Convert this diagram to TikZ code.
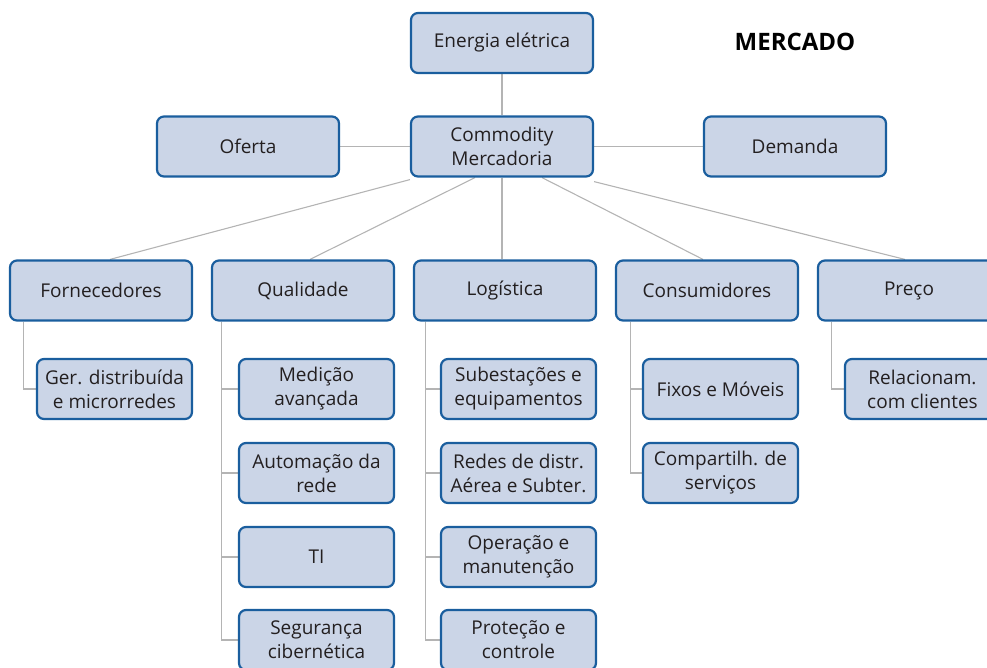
\documentclass[tikz,border=0pt]{standalone}
\usepackage{fontspec}
\setmainfont{Open Sans}
\usetikzlibrary{backgrounds}
\definecolor{boxfill}{HTML}{CBD5E7}
\definecolor{boxline}{HTML}{1A5E9E}
\definecolor{linkgray}{HTML}{B4B4B4}
\definecolor{ink}{HTML}{231F20}
\tikzset{
  topic/.style={rectangle, rounded corners=7pt, draw=boxline, line width=2.2pt,
    fill=boxfill, minimum width=182pt, minimum height=60pt, align=center,
    text=ink, font=\fontsize{19}{24}\selectfont, inner sep=0pt},
  subtopic/.style={topic, minimum width=155pt},
  link/.style={draw=linkgray, line width=1.1pt},
}
\begin{document}
\begin{tikzpicture}[x=1pt, y=-1pt]
\clip (0,0) rectangle (987,667);
\useasboundingbox (0,0) rectangle (987,667);

% top level
\node[topic] (ener) at (502,43) {Energia elétrica};
\node[topic] (com) at (502,146.5) {Commodity\\Mercadoria};
\node[topic] (ofe) at (248,146.5) {Oferta};
\node[topic] (dem) at (795,146.5) {Demanda};
\node[font=\fontsize{24}{28}\selectfont\bfseries, text=black] (merc) at (795,42) {MERCADO};

% second level
\node[topic] (forn) at (101,290.5) {Fornecedores};
\node[topic] (qual) at (303,290.5) {Qualidade};
\node[topic] (log) at (505,290.5) {Logística};
\node[topic] (cons) at (707,290.5) {Consumidores};
\node[topic] (prec) at (909,290.5) {Preço};

% third level
\node[subtopic] (ger) at (114.5,389) {Ger. distribuída\\e microrredes};

\node[subtopic] (med) at (316.5,389) {Medição\\avançada};
\node[subtopic] (aut) at (316.5,473) {Automação da\\rede};
\node[subtopic] (ti) at (316.5,557) {TI};
\node[subtopic] (seg) at (316.5,640) {Segurança\\cibernética};

\node[subtopic] (sub) at (518.5,389) {Subestações e\\equipamentos};
\node[subtopic] (red) at (518.5,473) {Redes de distr.\\Aérea e Subter.};
\node[subtopic] (ope) at (518.5,557) {Operação e\\manutenção};
\node[subtopic] (pro) at (518.5,640) {Proteção e\\controle};

\node[subtopic] (fix) at (720.5,389) {Fixos e Móveis};
\node[subtopic] (cmp) at (720.5,473) {Compartilh. de\\serviços};

\node[subtopic] (rel) at (922.5,389) {Relacionam.\\com clientes};

\begin{scope}[on background layer]
  \draw[link] (ener) -- (com);
  \draw[link] (ofe) -- (com);
  \draw[link] (com) -- (dem);

  \draw[link] ([yshift=-2pt]com.south west) -- ([xshift=9pt]forn.north);
  \draw[link] ([xshift=-27pt]com.south) -- ([xshift=7pt]qual.north);
  \draw[link] (com.south) -- (com.south |- log.north);
  \draw[link] ([xshift=40pt]com.south) -- ([xshift=-4pt]cons.north);
  \draw[link] ([yshift=-4pt]com.south east) -- ([xshift=-4pt]prec.north);

  \draw[link] ([xshift=15pt]forn.south west) |- (ger.west);

  \draw[link] ([xshift=11pt]qual.south west) |- (seg.west);
  \draw[link] ([xshift=11pt]qual.south west) |- (med.west);
  \draw[link] ([xshift=11pt]qual.south west) |- (aut.west);
  \draw[link] ([xshift=11pt]qual.south west) |- (ti.west);

  \draw[link] ([xshift=13pt]log.south west) |- (pro.west);
  \draw[link] ([xshift=13pt]log.south west) |- (sub.west);
  \draw[link] ([xshift=13pt]log.south west) |- (red.west);
  \draw[link] ([xshift=13pt]log.south west) |- (ope.west);

  \draw[link] ([xshift=16pt]cons.south west) |- (cmp.west);
  \draw[link] ([xshift=16pt]cons.south west) |- (fix.west);

  \draw[link] ([xshift=15pt]prec.south west) |- (rel.west);
\end{scope}
\end{tikzpicture}
\end{document}
